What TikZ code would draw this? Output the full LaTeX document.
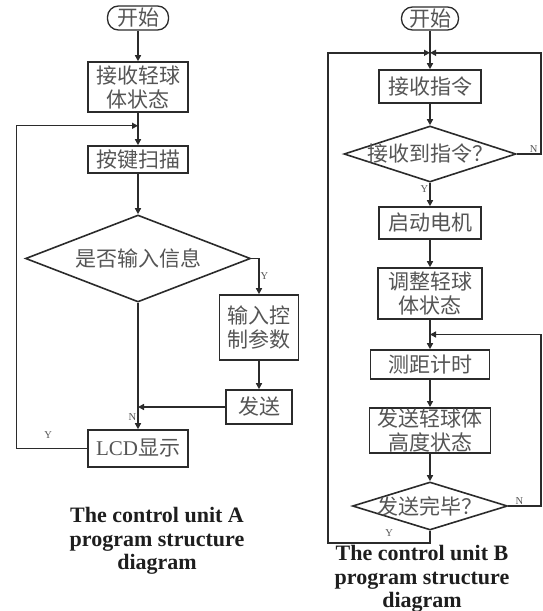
\documentclass[tikz,border=0pt]{standalone}
\usepackage{fontspec}
\setmainfont{Liberation Serif}
\newfontfamily\cjk{Noto Sans CJK SC}
\usepackage{tikz}
\usetikzlibrary{arrows.meta,positioning,shapes.geometric,calc}
\definecolor{ink}{HTML}{2B2B2B}
\definecolor{txt}{HTML}{555555}
\definecolor{capc}{HTML}{1E1E1E}
\tikzset{
  box/.style={draw=ink,fill=white,line width=1.6pt,inner sep=1pt,align=center,
    font=\cjk\fontsize{21}{24}\selectfont,text=txt},
  term/.style={box,rounded corners=11pt,minimum width=61pt,minimum height=24pt,line width=1.3pt},
  dec/.style={diamond,draw=ink,fill=white,line width=1.6pt,inner sep=0pt},
  dtext/.style={font=\cjk\fontsize{21}{24}\selectfont,text=txt},
  flow/.style={-{Triangle[length=6pt,width=6pt]},line width=1.4pt,color=ink},
  yn/.style={font=\fontsize{10.5}{11}\selectfont,text=txt,inner sep=1pt},
  captxt/.style={font=\bfseries\fontsize{22}{23.5}\selectfont,text=capc,align=center}
}
\begin{document}
\begin{tikzpicture}[x=1pt,y=-1pt]
  \useasboundingbox (0,0) rectangle (542,611);
  % control unit A
  \node[term] (startA) at (138,18) {开始};
  \node[box,minimum width=100pt,minimum height=50pt] (recvA) at (138,87) {接收轻球\\体状态};
  \node[box,minimum width=100pt,minimum height=27pt] (scanA) at (138,159.5) {按键扫描};
  \node[dec,minimum width=225pt,minimum height=87pt,
    label={[dtext]center:是否输入信息}] (askA) at (138,258.5) {};
  \node[box,minimum width=79pt,minimum height=65pt] (setA) at (259,327.5) {输入控\\制参数};
  \node[box,minimum width=66pt,minimum height=34pt] (sendA) at (259,407) {发送};
  \node[box,minimum width=100pt,minimum height=37pt] (lcdA) at (138,448.5) {{\rmfamily LCD}显示};
  \coordinate (jA) at ($(recvA.south)!0.4!(scanA.north)$);
  \draw[flow] (startA) -- (recvA);
  \draw[flow] (recvA) -- (scanA);
  \draw[flow] (scanA) -- (askA);
  \draw[flow] (askA.east) -| node[yn,right,pos=0.75]{Y} (setA.north);
  \draw[flow] (setA) -- (sendA);
  \draw[flow] (askA.south) -- node[yn,left,pos=0.9]{N} (lcdA.north);
  \draw[flow] (sendA.west) -- (askA.south |- sendA.west);
  \draw[flow] (lcdA.west) -- node[yn,above=8pt,pos=0.55]{Y} ++(-71pt,0) |- (jA);
  \node[captxt] (capA) at (157,541) {The control unit A\\program structure\\diagram};
  % control unit B
  \node[term,minimum width=57pt,minimum height=23pt] (startB) at (430,18.5) {开始};
  \node[box,minimum width=102pt,minimum height=33pt] (recvB) at (430,86.5) {接收指令};
  \node[dec,minimum width=172pt,minimum height=56pt,
    label={[dtext]center:接收到指令？}] (askB) at (430,154) {};
  \node[box,minimum width=102pt,minimum height=32pt] (motorB) at (430,223) {启动电机};
  \node[box,minimum width=104pt,minimum height=51pt] (trimB) at (430,293.5) {调整轻球\\体状态};
  \node[box,minimum width=119pt,minimum height=29pt] (rangeB) at (430,364.5) {测距计时};
  \node[box,minimum width=121pt,minimum height=45pt] (sendB) at (430,430.5) {发送轻球体\\高度状态};
  \node[dec,minimum width=155pt,minimum height=48pt,
    label={[dtext]center:发送完毕？}] (doneB) at (430,506) {};
  \coordinate (jB) at ($(startB.south)!0.575!(recvB.north)$);
  \coordinate (jB2) at ($(trimB.south)!0.5!(rangeB.north)$);
  \coordinate (leftB) at ($(jB)+(-102pt,0)$);
  \coordinate (rightB) at ($(jB)+(111pt,0)$);
  \draw[flow] (startB) -- (recvB);
  \draw[flow] (recvB) -- (askB);
  \draw[flow] (askB) -- node[yn,left,pos=0.25]{Y} (motorB);
  \draw[flow] (motorB) -- (trimB);
  \draw[flow] (trimB) -- (rangeB);
  \draw[flow] (rangeB) -- (sendB);
  \draw[flow] (sendB) -- (doneB);
  \draw[flow] (askB.east) -| node[yn,above,pos=0.35]{N} (rightB) -- (jB);
  \draw[flow] (doneB.east) -| node[yn,above,pos=0.17]{N} (rightB |- jB2) -- (jB2);
  \draw[flow] (doneB.south) -- ++(0,-12pt) -| node[yn,above=5pt,pos=0.2]{Y} (leftB) -- (jB);
  \node[captxt] (capB) at (422,579) {The control unit B\\program structure\\diagram};
\end{tikzpicture}
\end{document}
